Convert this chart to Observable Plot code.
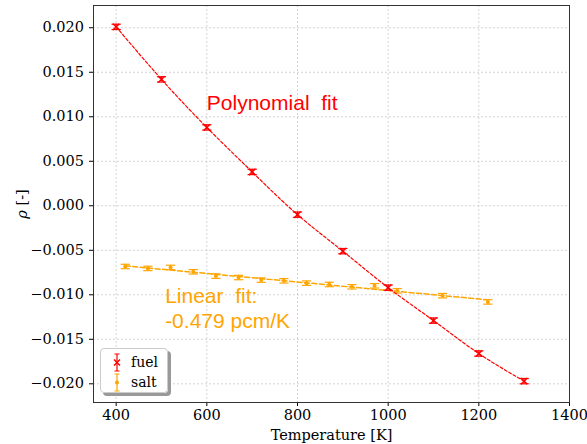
<!DOCTYPE html>
<html>
<head>
<meta charset="utf-8">
<script src="https://cdn.jsdelivr.net/npm/d3@7"></script>
<script src="https://cdn.jsdelivr.net/npm/@observablehq/plot@0.6"></script>
<style>
  body { margin: 0; background: #fff; }
  #wrap { position: relative; width: 587px; height: 444px; }
  .legend { position: absolute; left: 100px; top: 348px; width: 66px; height: 43px;
    border: 1px solid #ccc; border-radius: 4px; background: rgba(255,255,255,0.9);
    box-shadow: 3px 3px 0 #999; font-family: "DejaVu Serif"; font-size: 14px; color: #000; }
  .legend .row { position: absolute; left: 8px; height: 20px; display: flex; align-items: center; }
  .legend svg { margin-right: 6px; }
</style>
</head>
<body>
<div id="wrap"></div>
<script>
const fuelT = [400, 500, 600, 700, 800, 900, 1000, 1100, 1200, 1300];
const fuelRho = [0.0201, 0.0142, 0.0088, 0.0038, -0.0010, -0.0051, -0.0092, -0.0129, -0.0166, -0.0197];
const fuelErr = [0.0003, 0.0003, 0.0003, 0.0003, 0.0003, 0.0003, 0.0003, 0.0003, 0.0003, 0.0003];

const saltT = [420, 470, 520, 570, 620, 670, 720, 770, 820, 870, 920, 970, 1020, 1120, 1220];
const saltRho = [-0.00682, -0.00704, -0.00693, -0.00742, -0.00790, -0.00806, -0.00835, -0.00843,
                 -0.00869, -0.00884, -0.00910, -0.00899, -0.00955, -0.01010, -0.01080];
const saltErr = [0.00025, 0.00025, 0.00025, 0.00025, 0.00025, 0.00025, 0.00025, 0.00025,
                 0.00025, 0.00025, 0.00025, 0.00025, 0.00025, 0.00025, 0.00025];

const xTicks = [400, 600, 800, 1000, 1200, 1400];
const yTicks = [-0.020, -0.015, -0.010, -0.005, 0.000, 0.005, 0.010, 0.015, 0.020];

const annotations = [
  {T: 600, rho: 0.01165, text: "Polynomial  fit", color: "red"},
  {T: 508, rho: -0.01145, text: "Linear  fit:\n-0.479 pcm/K", color: "#ffa500"}
];

const fuel = fuelT.map((T, i) => ({T, rho: fuelRho[i], err: fuelErr[i]}));
const salt = saltT.map((T, i) => ({T, rho: saltRho[i], err: saltErr[i]}));

const cap = {draw(ctx, size) { const w = Math.sqrt(size); ctx.moveTo(-w, 0); ctx.lineTo(w, 0); }};

function errorMarks(data, color) {
  return [
    Plot.ruleX(data, {x: "T", y1: d => d.rho - d.err, y2: d => d.rho + d.err, stroke: color, strokeWidth: 1.2}),
    Plot.dot(data, {x: "T", y: d => d.rho - d.err, symbol: cap, r: 2.6, stroke: color, strokeWidth: 1.2}),
    Plot.dot(data, {x: "T", y: d => d.rho + d.err, symbol: cap, r: 2.6, stroke: color, strokeWidth: 1.2})
  ];
}

const serif = {fontFamily: "DejaVu Serif", fontSize: 14.5, fill: "#000"};

const chart = Plot.plot({
  width: 587, height: 444,
  marginLeft: 93, marginRight: 18, marginTop: 5, marginBottom: 42,
  style: {fontFamily: "DejaVu Serif", fontSize: "14.5px", color: "#000", background: "#fff"},
  x: {domain: [350, 1400]},
  y: {domain: [-0.0221, 0.0225]},
  marks: [
    Plot.gridX(xTicks, {stroke: "#c8c8c8", strokeOpacity: 0.8, strokeDasharray: "2,2"}),
    Plot.gridY(yTicks, {stroke: "#c8c8c8", strokeOpacity: 0.8, strokeDasharray: "2,2"}),
    Plot.axisX({ticks: xTicks, tickSize: 4, tickFormat: () => "",
      label: "Temperature [K]", labelAnchor: "center", labelArrow: "none", labelOffset: 37}),
    Plot.axisY({ticks: yTicks, tickSize: 4, tickFormat: () => "",
      label: "ρ [-]", labelAnchor: "center", labelArrow: "none", labelOffset: 77}),
    Plot.text(xTicks, {x: d => d, text: d3.format("d"), frameAnchor: "bottom", lineAnchor: "top",
      dy: 7, ...serif}),
    Plot.text(yTicks, {y: d => d, text: d3.format(".3f"), frameAnchor: "left", textAnchor: "end",
      dx: -9.5, ...serif}),
    Plot.linearRegressionY(salt, {x: "T", y: "rho", stroke: "#ffa500", strokeWidth: 1.5,
      strokeDasharray: "5,2.5", ci: 0}),
    ...errorMarks(salt, "#ffa500"),
    Plot.dot(salt, {x: "T", y: "rho", r: 2, fill: "#ffa500"}),
    Plot.line(fuel, {x: "T", y: "rho", curve: "natural", stroke: "red", strokeWidth: 1.2,
      strokeDasharray: "3,2"}),
    ...errorMarks(fuel, "red"),
    Plot.dot(fuel, {x: "T", y: "rho", symbol: "times", r: 3, stroke: "red", strokeWidth: 1.5}),
    Plot.text(annotations, {x: "T", y: "rho", text: "text", fill: "color", textAnchor: "start",
      lineAnchor: "middle", fontFamily: "Liberation Sans", fontSize: 21, lineHeight: 1.2}),
    Plot.frame({stroke: "#333", strokeWidth: 1})
  ]
});

// italic rho in the y label
d3.select(chart).selectAll("text").each(function() {
  if (this.textContent === "ρ [-]") {
    this.textContent = "";
    d3.select(this).append("tspan").attr("font-style", "italic").text("ρ");
    d3.select(this).append("tspan").text(" [-]");
  }
});

const wrap = document.getElementById("wrap");
wrap.appendChild(chart);

const legendItems = [
  {label: "fuel", color: "red", marker: "x"},
  {label: "salt", color: "#ffa500", marker: "dot"}
];
const leg = document.createElement("div");
leg.className = "legend";
legendItems.forEach((it, i) => {
  const row = document.createElement("div");
  row.className = "row";
  row.style.top = (3 + i * 20) + "px";
  const m = it.marker === "x"
    ? `<path d="M5,8.5L11,14.5M11,8.5L5,14.5" stroke="${it.color}" stroke-width="1.5"/>`
    : `<circle cx="8" cy="11.5" r="2" fill="${it.color}"/>`;
  row.innerHTML = `<svg width="16" height="23" viewBox="0 0 16 23">
      <path d="M8,3V20M5.5,3H10.5M5.5,20H10.5" stroke="${it.color}" stroke-width="1.2" fill="none"/>${m}</svg>
      <span>${it.label}</span>`;
  leg.appendChild(row);
});
wrap.appendChild(leg);
</script>
</body>
</html>
